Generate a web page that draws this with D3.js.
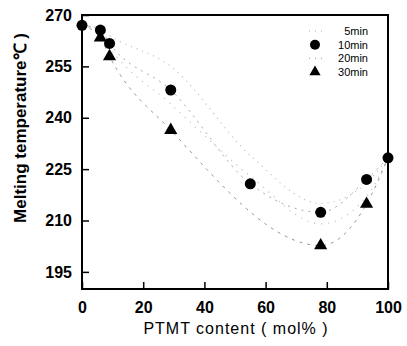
<!DOCTYPE html>
<html><head><meta charset="utf-8">
<script src="https://cdn.jsdelivr.net/npm/d3@7"></script>
<style>body{margin:0;background:#fff}svg{display:block}</style>
</head><body>
<script>
const xVals = [0, 6, 9, 29, 55, 78, 93, 100];
const series5 = [267, 265.8, 264, 255, 229, 215, 221, 228.3];
const series10 = [267, 265.6, 261.7, 248.1, 220.7, 212.4, 222, 228.3];
const series20 = [267, 264.5, 260.5, 244, 223, 209, 217, 228.3];
const series30 = [267, 263.4, 257.9, 236.4, null, 202.7, 214.8, 228.3];
const xTicks = [0, 20, 40, 60, 80, 100];
const yTicks = [195, 210, 225, 240, 255, 270];
const legendLabels = ["5min", "10min", "20min", "30min"];

const W = 407, H = 346;
const m = {l: 82, r: 19, t: 15, b: 57};
const svg = d3.select("body").append("svg").attr("width", W).attr("height", H);
const x = d3.scaleLinear().domain([0, 100]).range([m.l, W - m.r]);
const y = d3.scaleLinear().domain([190, 270]).range([H - m.b, m.t]);

const font = "Liberation Sans, Arial, sans-serif";

function pts(s) { return xVals.map((v, i) => [v, s[i]]).filter(d => d[1] != null); }
const line = d3.line().x(d => x(d[0])).y(d => y(d[1])).curve(d3.curveMonotoneX);
const lineStyles = [
  {s: series5, color: "#bbb", dash: "1,5", w: 1.2},
  {s: series10, color: "#aaa", dash: "2,5", w: 1},
  {s: series20, color: "#bbb", dash: "1,6", w: 1.2},
  {s: series30, color: "#999", dash: "3,5", w: 1}
];
lineStyles.forEach(ls => {
  svg.append("path").attr("d", line(pts(ls.s))).attr("fill", "none")
    .attr("stroke", ls.color).attr("stroke-width", ls.w).attr("stroke-dasharray", ls.dash);
});

svg.append("g").selectAll("circle").data(pts(series10)).join("circle")
  .attr("cx", d => x(d[0])).attr("cy", d => y(d[1])).attr("r", 5.5).attr("fill", "#000");
const tri = d3.symbol().type(d3.symbolTriangle).size(75);
svg.append("g").selectAll("path").data(pts(series30).filter(d => d[0] !== 0 && d[0] !== 100)).join("path")
  .attr("d", tri).attr("transform", d => `translate(${x(d[0])},${y(d[1])})`).attr("fill", "#000");

svg.append("rect").attr("x", m.l).attr("y", m.t).attr("width", W - m.r - m.l).attr("height", H - m.b - m.t)
  .attr("fill", "none").attr("stroke", "#000").attr("stroke-width", 2);

const xAxis = svg.append("g").attr("transform", `translate(0,${H - m.b})`)
  .call(d3.axisBottom(x).tickValues(xTicks).tickSizeInner(-7).tickSizeOuter(0).tickPadding(13));
const yAxis = svg.append("g").attr("transform", `translate(${m.l},0)`)
  .call(d3.axisLeft(y).tickValues(yTicks).tickSizeInner(-7).tickSizeOuter(0).tickPadding(10));
[xAxis, yAxis].forEach(a => {
  a.select(".domain").remove();
  a.selectAll("line").attr("stroke", "#000").attr("stroke-width", 1.5);
  a.selectAll("text").attr("font-family", font).attr("font-size", 16).attr("font-weight", "bold").attr("fill", "#000");
});

svg.append("text").attr("x", 236).attr("y", 334).attr("text-anchor", "middle")
  .attr("font-family", font).attr("font-size", 16).attr("letter-spacing", 1).attr("fill", "#000").text("PTMT content ( mol% )");
svg.append("text").attr("transform", "translate(26,128) rotate(-90)").attr("text-anchor", "middle")
  .attr("font-family", font).attr("font-size", 17).attr("font-weight", "bold").attr("fill", "#000").text("Melting temperature℃ )");

const lg = svg.append("g");
legendLabels.forEach((t, i) => {
  const yy = 31 + i * 13.7;
  if (i === 1) lg.append("circle").attr("cx", 315).attr("cy", yy).attr("r", 5).attr("fill", "#000");
  else if (i === 3) lg.append("path").attr("d", d3.symbol().type(d3.symbolTriangle).size(55)).attr("transform", `translate(315,${yy})`).attr("fill", "#000");
  else lg.append("line").attr("x1", 309).attr("x2", 322).attr("y1", yy).attr("y2", yy)
    .attr("stroke", "#aaa").attr("stroke-dasharray", "1,5").attr("stroke-width", 1.2);
  lg.append("text").attr("x", 368).attr("y", yy + 4).attr("text-anchor", "end")
    .attr("font-family", font).attr("font-size", 11).attr("fill", "#000").text(t);
});
</script>
</body></html>
